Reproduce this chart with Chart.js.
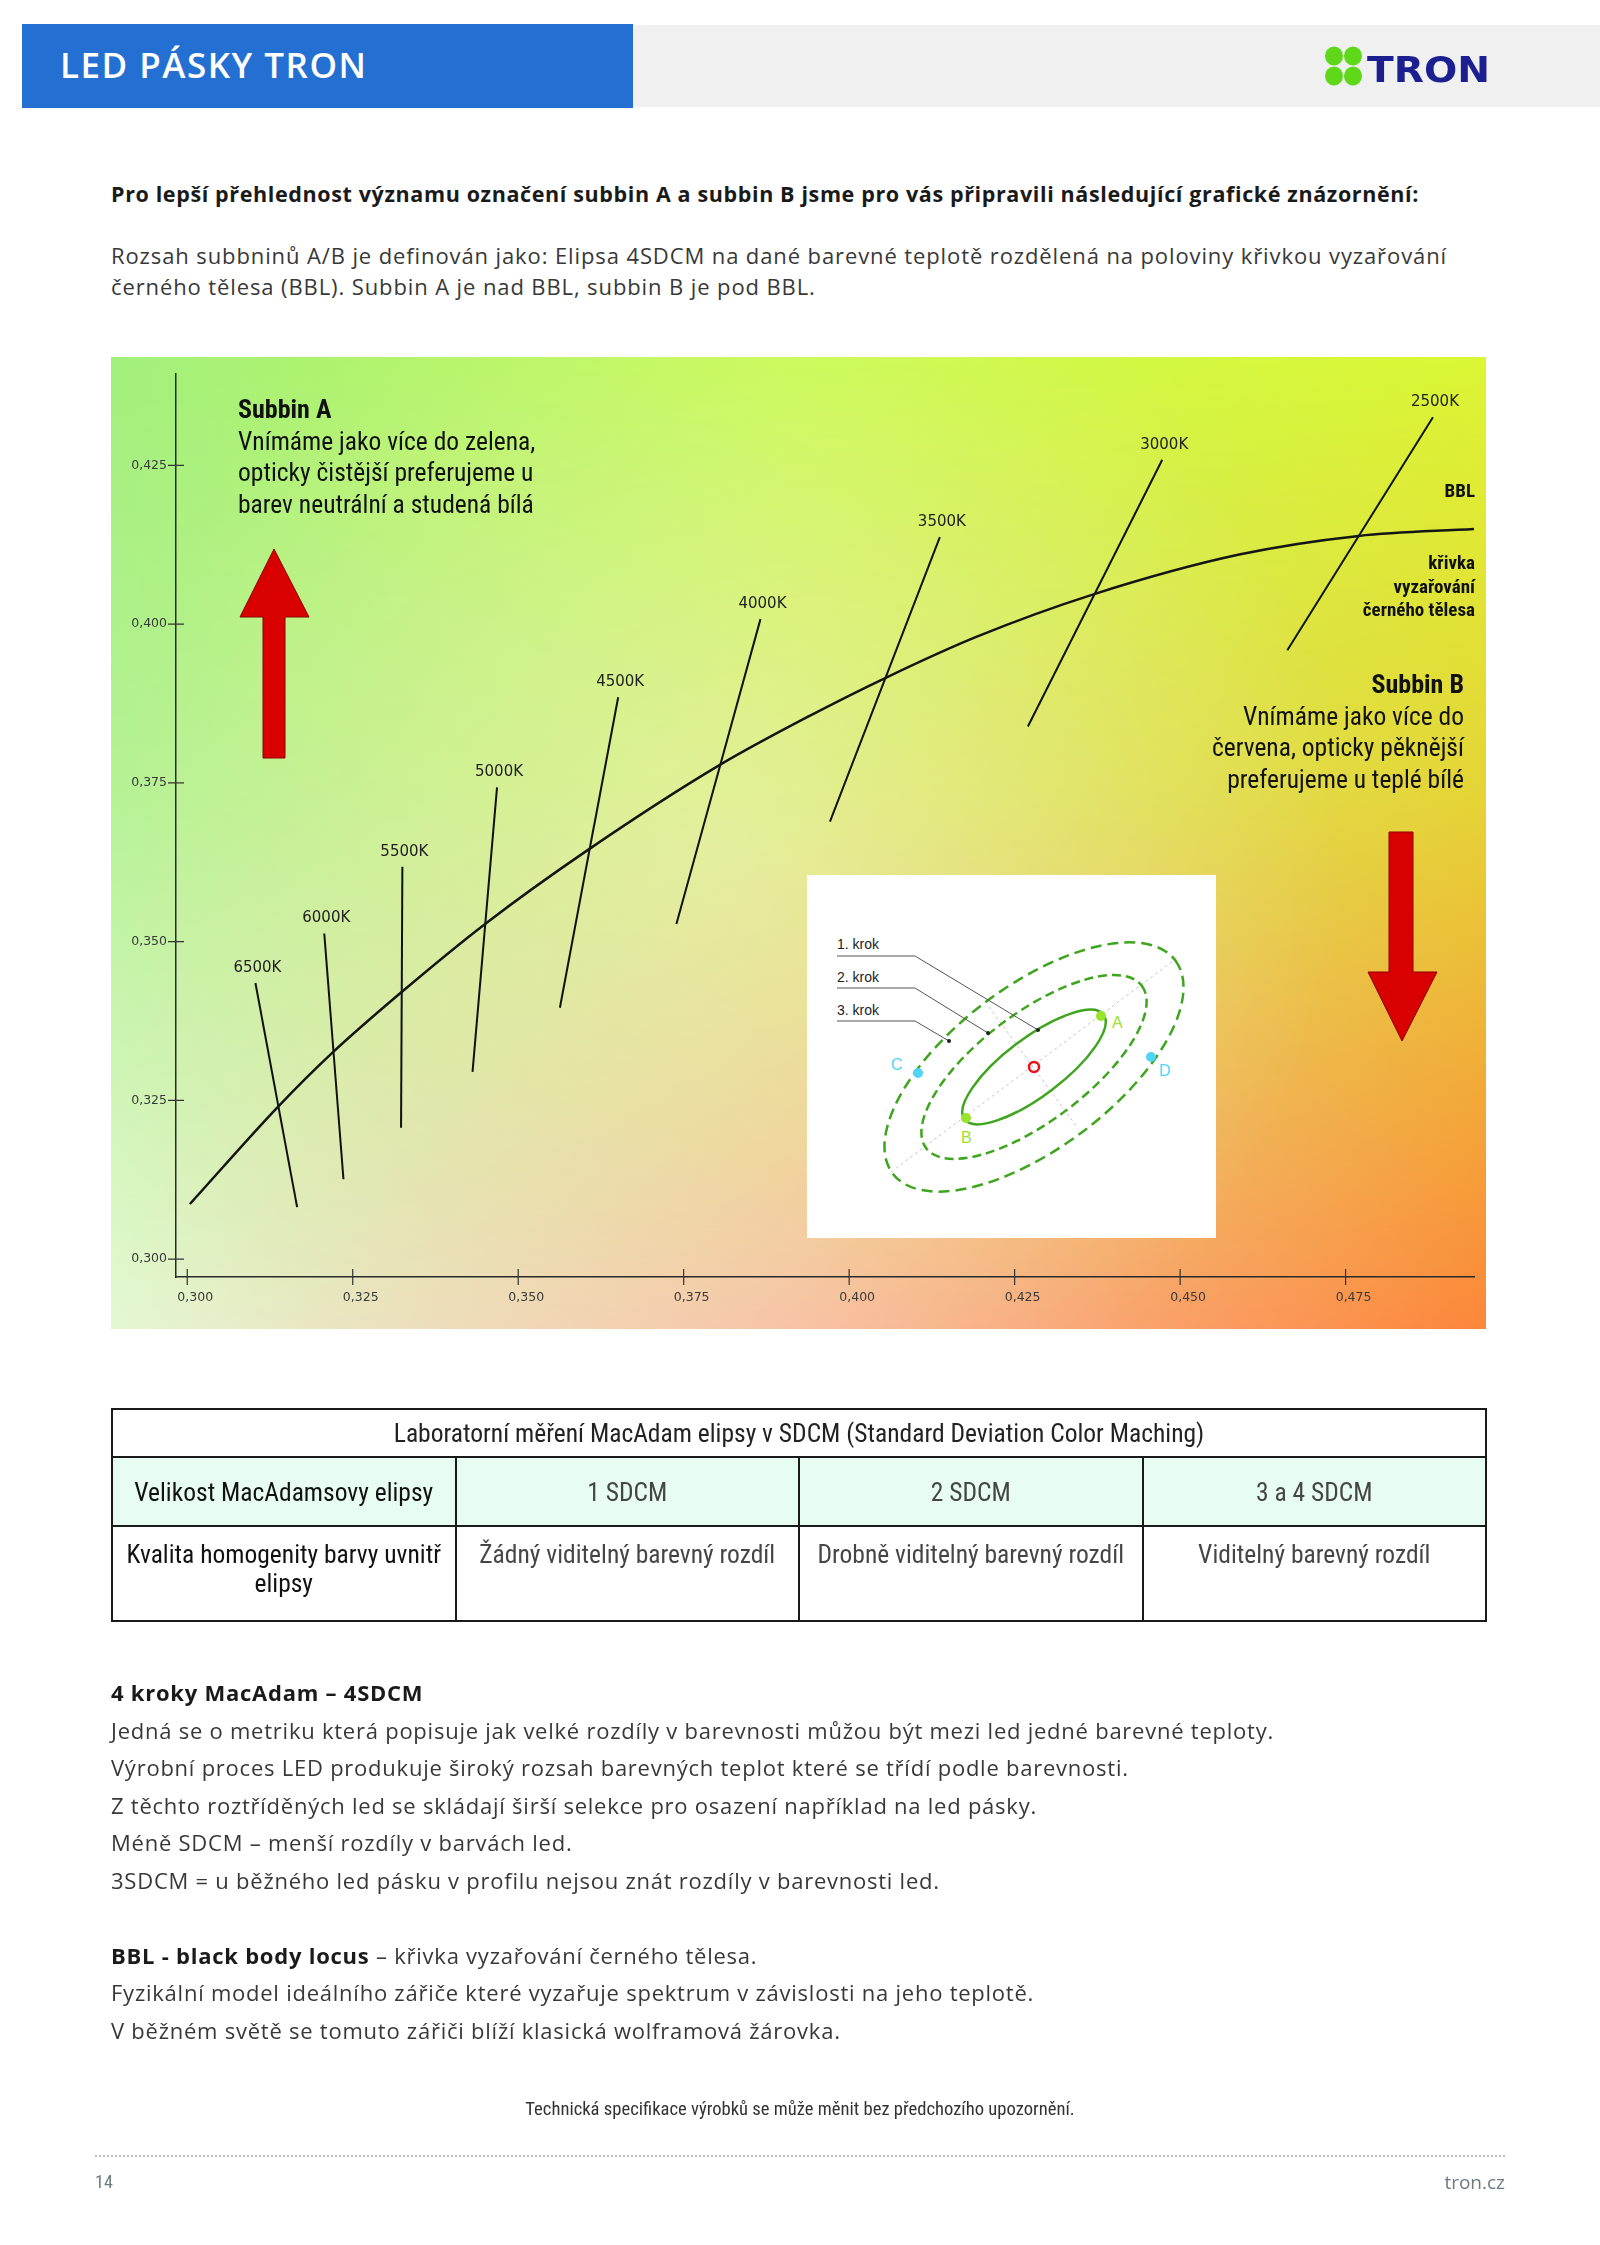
<!DOCTYPE html>
<html lang="cs">
<head>
<meta charset="utf-8">
<title>LED pásky TRON – subbin A / B</title>
<script src="https://cdn.jsdelivr.net/npm/chart.js@4.4.1/dist/chart.umd.min.js"></script>
<style>
  html, body { margin: 0; padding: 0; background: #fff; }
  body { width: 1600px; height: 2245px; position: relative; overflow: hidden; font-family: "Open Sans", Lato, sans-serif; color: #333; }
  .abs { position: absolute; }
  .cond { font-family: "Liberation Sans Narrow", "Roboto Condensed", "DejaVu Sans Condensed", sans-serif; }
  #hdr-blue { left: 22px; top: 24px; width: 611px; height: 84px; background: #246fd2; }
  #hdr-grey { left: 633px; top: 25px; width: 967px; height: 82px; background: #eff0ef; }
  #hdr-title { left: 60px; top: 43px; font-family: "Open Sans", sans-serif; font-weight: 600; font-size: 35px; letter-spacing: 1.5px; color: #fff; line-height: 44px; }
  #lead { left: 111px; top: 179px; font-size: 21.5px; font-weight: 700; color: #1a1a1a; white-space: nowrap; }
  #intro { left: 111px; top: 240px; font-size: 22px; line-height: 31px; color: #383838; white-space: nowrap; }
  #chartBox { left: 111px; top: 357px; width: 1375px; height: 972px; }
  .note { font-size: 25.5px; line-height: 31.5px; color: #111; white-space: nowrap; }
  .note b { font-size: 26px; }
  #subA { left: 238px; top: 394px; }
  #subB { right: 136px; top: 669px; text-align: right; }
  #bbl { right: 125px; top: 479px; text-align: right; font-weight: 700; font-size: 19px; line-height: 23.5px; color: #111; }
  #bblTxt { right: 125px; top: 551px; text-align: right; font-weight: 700; font-size: 19px; line-height: 23.5px; color: #111; }
  #inset { left: 807px; top: 875px; width: 409px; height: 363px; background: #fff; }
  #overlay { left: 0; top: 0; width: 1600px; height: 2245px; pointer-events: none; }
  table#mac { position: absolute; left: 111px; top: 1408px; width: 1376px; border-collapse: collapse; table-layout: fixed; }
  #mac td { border: 2px solid #1a1a1a; text-align: center; font-size: 25.5px; color: #454545; padding: 0 6px; }
  #mac tr.h td { height: 46px; color: #222; }
  #mac tr.s td { height: 67px; background: #e7fdf1; }
  #mac tr.q td { height: 80px; vertical-align: top; padding-top: 13px; line-height: 29px; }
  #mac td.k { color: #111; }
  #steps { left: 111px; top: 1674px; font-size: 22px; line-height: 37.5px; color: #383838; white-space: nowrap; }
  #steps b { color: #1a1a1a; }
  #disc { left: 0; width: 1600px; top: 2098px; text-align: center; font-size: 18.6px; color: #333; }
  #dots { left: 95px; top: 2155px; width: 1410px; border-top: 2px dotted #bdbdbd; }
  #pg { left: 95px; top: 2171px; font-size: 18px; color: #6b7b82; }
  #web { right: 95px; top: 2169px; font-family: "Open Sans", sans-serif; font-size: 19px; color: #6b7b82; }
</style>
</head>
<body>
<div class="abs" id="hdr-blue"></div>
<div class="abs" id="hdr-grey"></div>
<div class="abs" id="hdr-title">LED PÁSKY TRON</div>

<div class="abs" id="lead"><span id="leadRef">Pro lepší přehlednost významu označení subbin A a subbin B jsme pro vás připravili následující grafické znázornění:</span></div>
<div class="abs" id="intro"><span id="introRef">Rozsah subbninů A/B je definován jako: Elipsa 4SDCM na dané barevné teplotě rozdělená na poloviny křivkou vyzařování</span><br>černého tělesa (BBL). Subbin A je nad BBL, subbin B je pod BBL.</div>

<div class="abs" id="chartBox"><canvas id="cie"></canvas></div>

<div class="abs note cond" id="subA"><b>Subbin A</b><br>Vnímáme jako více do zelena,<br>opticky čistější preferujeme u<br>barev neutrální a studená bílá</div>
<div class="abs note cond" id="subB"><b>Subbin B</b><br>Vnímáme jako více do<br>červena, opticky pěknější<br>preferujeme u teplé bílé</div>
<div class="abs cond" id="bbl">BBL</div>
<div class="abs cond" id="bblTxt">křivka<br>vyzařování<br>černého tělesa</div>

<svg class="abs" id="inset" viewBox="0 0 409 363" xmlns="http://www.w3.org/2000/svg">
  <g stroke="#c8c8c8" stroke-width="1" stroke-dasharray="3 3" fill="none">
    <line x1="84" y1="297" x2="370" y2="83"/>
    <line x1="182" y1="132" x2="270" y2="252"/>
  </g>
  <g transform="rotate(-37 227 192)" fill="none" stroke="#3ea51e" stroke-width="2.5">
    <ellipse cx="227" cy="192" rx="87" ry="29"/>
    <ellipse cx="227" cy="192" rx="135" ry="54" stroke-dasharray="9 5"/>
    <ellipse cx="227" cy="192" rx="177" ry="81" stroke-dasharray="11 6"/>
  </g>
  <g stroke="#555" stroke-width="1" fill="none">
    <polyline points="30,81 108,81 231,155"/>
    <polyline points="30,113 108,113 181,158"/>
    <polyline points="30,146 108,146 142,166"/>
  </g>
  <g fill="#222">
    <circle cx="231" cy="155" r="2"/><circle cx="181" cy="158" r="2"/><circle cx="142" cy="166" r="2"/>
  </g>
  <g font-family="Liberation Sans, Arial, sans-serif" font-size="14" fill="#222">
    <text x="30" y="74">1. krok</text>
    <text x="30" y="107">2. krok</text>
    <text x="30" y="140">3. krok</text>
  </g>
  <circle cx="227" cy="192" r="5" fill="none" stroke="#e8141e" stroke-width="2.5"/>
  <g fill="#9be32a" font-family="Liberation Sans, Arial, sans-serif" font-size="16">
    <circle cx="294" cy="141" r="5"/><text x="305" y="153">A</text>
    <circle cx="159" cy="243" r="5"/><text x="154" y="268">B</text>
  </g>
  <g fill="#4fd4f5" font-family="Liberation Sans, Arial, sans-serif" font-size="16">
    <circle cx="111" cy="198" r="5"/><text x="84" y="195">C</text>
    <circle cx="344" cy="182" r="5"/><text x="352" y="201">D</text>
  </g>
</svg>

<svg class="abs" id="overlay" viewBox="0 0 1600 2245" xmlns="http://www.w3.org/2000/svg">
  <polygon points="274,549 309,617 285,617 285,758 263,758 263,617 240,617" fill="#d80000" stroke="#8a0000" stroke-width="1"/>
  <polygon points="1389,832 1413,832 1413,972 1437,972 1402,1041 1368,972 1389,972" fill="#d80000" stroke="#8a0000" stroke-width="1"/>
  <g fill="#5fd81a">
    <ellipse cx="1334" cy="56" rx="9" ry="9.5"/><ellipse cx="1353" cy="56" rx="9" ry="9.5"/>
    <ellipse cx="1334" cy="76" rx="9" ry="9.5"/><ellipse cx="1353" cy="76" rx="9" ry="9.5"/>
  </g>
  <text x="1367" y="82" font-family="DejaVu Sans, sans-serif" font-weight="bold" font-size="35" fill="#1c1f8f" textLength="123" lengthAdjust="spacingAndGlyphs">TRON</text>
</svg>

<table id="mac" class="cond">
  <tr class="h"><td colspan="4">Laboratorní měření MacAdam elipsy v SDCM (Standard Deviation Color Maching)</td></tr>
  <tr class="s"><td class="k">Velikost MacAdamsovy elipsy</td><td>1 SDCM</td><td>2 SDCM</td><td>3 a 4 SDCM</td></tr>
  <tr class="q"><td class="k">Kvalita homogenity barvy uvnitř<br>elipsy</td><td>Žádný viditelný barevný rozdíl</td><td>Drobně viditelný barevný rozdíl</td><td>Viditelný barevný rozdíl</td></tr>
</table>

<div class="abs" id="steps"><b>4 kroky MacAdam – 4SDCM</b><br><span id="stepsRef">Jedná se o metriku která popisuje jak velké rozdíly v barevnosti můžou být mezi led jedné barevné teploty.</span><br>Výrobní proces LED produkuje široký rozsah barevných teplot které se třídí podle barevnosti.<br>Z těchto roztříděných led se skládají širší selekce pro osazení například na led pásky.<br>Méně SDCM – menší rozdíly v barvách led.<br>3SDCM = u běžného led pásku v profilu nejsou znát rozdíly v barevnosti led.<br><br><b>BBL - black body locus</b> – křivka vyzařování černého tělesa.<br>Fyzikální model ideálního zářiče které vyzařuje spektrum v závislosti na jeho teplotě.<br>V běžném světě se tomuto zářiči blíží klasická wolframová žárovka.</div>

<div class="abs cond" id="disc">Technická specifikace výrobků se může měnit bez předchozího upozornění.</div>
<div class="abs" id="dots"></div>
<div class="abs cond" id="pg">14</div>
<div class="abs" id="web">tron.cz</div>

<script>
// CIE 1931 x/y values

// axis ranges and ticks
const xMin = 0.2983, xMax = 0.4944;
const yMin = 0.2972, yMax = 0.4394;
const xTickValues = [0.300, 0.325, 0.350, 0.375, 0.400, 0.425, 0.450, 0.475];
const xTickLabels = ['0,300', '0,325', '0,350', '0,375', '0,400', '0,425', '0,450', '0,475'];
const yTickValues = [0.300, 0.325, 0.350, 0.375, 0.400, 0.425];
const yTickLabels = ['0,300', '0,325', '0,350', '0,375', '0,400', '0,425'];

// black body locus (BBL)
const bblX = [0.3004, 0.3137, 0.3219, 0.3323, 0.3450, 0.3606, 0.3804, 0.3941, 0.4056, 0.4192, 0.4369, 0.4591, 0.4770, 0.4944];
const bblY = [0.3087, 0.3240, 0.3325, 0.3420, 0.3528, 0.3645, 0.3778, 0.3856, 0.3916, 0.3980, 0.4047, 0.4110, 0.4139, 0.4150];

// isotherm lines (correlated colour temperature)
const cctLabels  = ['6500K', '6000K', '5500K', '5000K', '4500K', '4000K', '3500K', '3000K', '2500K'];
const cctTopX    = [0.3103, 0.3207, 0.3325, 0.3468, 0.3651, 0.3866, 0.4137, 0.4473, 0.4882];
const cctTopY    = [0.3435, 0.3513, 0.3618, 0.3743, 0.3885, 0.4008, 0.4137, 0.4259, 0.4326];
const cctBottomX = [0.3166, 0.3236, 0.3323, 0.3431, 0.3563, 0.3739, 0.3971, 0.4270, 0.4662];
const cctBottomY = [0.3082, 0.3126, 0.3207, 0.3295, 0.3396, 0.3528, 0.3689, 0.3839, 0.3959];

// stretch a text block so that its reference line gets the width seen in the original
function fitBlock(blockId, refId, target) {
    const block = document.getElementById(blockId), ref = document.getElementById(refId);
    block.style.letterSpacing = '0px';
    const w = ref.getBoundingClientRect().width;
    const n = ref.textContent.length;
    block.style.letterSpacing = ((target - w) / n).toFixed(3) + 'px';
}

document.addEventListener('DOMContentLoaded', function () {
    const fit = () => {
        fitBlock('lead', 'leadRef', 1308);
        fitBlock('intro', 'introRef', 1336);
        fitBlock('steps', 'stepsRef', 1163);
    };
    fit();
    if (document.fonts && document.fonts.ready) document.fonts.ready.then(fit);

    const datasets = [{
        label: 'BBL',
        data: bblX.map((x, i) => ({ x: x, y: bblY[i] })),
        showLine: true,
        cubicInterpolationMode: 'monotone',
        borderColor: '#151515',
        borderWidth: 2.5,
        pointRadius: 0,
        clip: false
    }];
    cctLabels.forEach((name, i) => {
        datasets.push({
            label: name,
            data: [{ x: cctBottomX[i], y: cctBottomY[i] }, { x: cctTopX[i], y: cctTopY[i] }],
            showLine: true,
            borderColor: '#111',
            borderWidth: 2,
            pointRadius: 0,
            clip: false
        });
    });

    // gradient background of the diagram
    const backdrop = {
        id: 'backdrop',
        beforeDraw(chart) {
            const ctx = chart.ctx, w = chart.width, h = chart.height;
            ctx.save();
            let top = ctx.createLinearGradient(0, 0, w, 0);
            top.addColorStop(0, '#a2f07c');
            top.addColorStop(0.5, '#c9fa52');
            top.addColorStop(1, '#dcf634');
            ctx.fillStyle = top;
            ctx.fillRect(0, 0, w, h);

            const off = document.createElement('canvas');
            off.width = w; off.height = h;
            const o = off.getContext('2d');
            let bot = o.createLinearGradient(0, 0, w, 0);
            bot.addColorStop(0, '#e4f8d2');
            bot.addColorStop(0.5, '#f7bea0');
            bot.addColorStop(1, '#fc863a');
            o.fillStyle = bot;
            o.fillRect(0, 0, w, h);
            o.globalCompositeOperation = 'destination-in';
            let mask = o.createLinearGradient(0, 0, 0, h);
            mask.addColorStop(0, 'rgba(0,0,0,0)');
            mask.addColorStop(0.45, 'rgba(0,0,0,0.3)');
            mask.addColorStop(1, 'rgba(0,0,0,1)');
            o.fillStyle = mask;
            o.fillRect(0, 0, w, h);
            ctx.drawImage(off, 0, 0, w, h);

            let glow = ctx.createRadialGradient(w * 0.45, h * 0.5, 0, w * 0.45, h * 0.5, w * 0.45);
            glow.addColorStop(0, 'rgba(255,255,235,0.35)');
            glow.addColorStop(1, 'rgba(255,255,235,0)');
            ctx.fillStyle = glow;
            ctx.fillRect(0, 0, w, h);
            ctx.restore();
        }
    };

    // tick marks crossing the axes, and temperature labels
    const marks = {
        id: 'marks',
        afterDraw(chart) {
            const ctx = chart.ctx, a = chart.chartArea;
            const xs = chart.scales.x, ys = chart.scales.y;
            ctx.save();
            ctx.strokeStyle = '#333';
            ctx.lineWidth = 1.2;
            ctx.beginPath();
            yTickValues.forEach(v => {
                const p = ys.getPixelForValue(v);
                ctx.moveTo(a.left - 8, p); ctx.lineTo(a.left + 8, p);
            });
            xTickValues.forEach(v => {
                const p = xs.getPixelForValue(v);
                ctx.moveTo(p, a.bottom - 8); ctx.lineTo(p, a.bottom + 8);
            });
            ctx.stroke();

            ctx.fillStyle = '#222';
            ctx.font = '15px "DejaVu Sans", sans-serif';
            ctx.textAlign = 'center';
            ctx.textBaseline = 'middle';
            cctLabels.forEach((name, i) => {
                ctx.fillText(name, xs.getPixelForValue(cctTopX[i]) + 2, ys.getPixelForValue(cctTopY[i]) - 15);
            });
            ctx.restore();
        }
    };

    const tickFont = { family: '"DejaVu Sans", sans-serif', size: 12.5 };

    new Chart(document.getElementById('cie'), {
        type: 'scatter',
        data: { datasets: datasets },
        options: {
            responsive: true,
            maintainAspectRatio: false,
            animation: false,
            events: [],
            layout: { padding: { top: 17, right: 12, left: 0, bottom: 0 } },
            plugins: {
                legend: { display: false },
                tooltip: { enabled: false }
            },
            scales: {
                x: {
                    type: 'linear',
                    min: xMin,
                    max: xMax,
                    afterBuildTicks: axis => { axis.ticks = xTickValues.map(v => ({ value: v })); },
                    afterFit: axis => { axis.height = 52; },
                    grid: { display: false, drawTicks: false },
                    border: { color: '#2a2a2a', width: 1.5 },
                    ticks: {
                        padding: 13,
                        labelOffset: 8,
                        maxRotation: 0,
                        color: '#3a3a3a',
                        font: tickFont,
                        callback: (v, i) => xTickLabels[i]
                    }
                },
                y: {
                    type: 'linear',
                    min: yMin,
                    max: yMax,
                    afterBuildTicks: axis => { axis.ticks = yTickValues.map(v => ({ value: v })); },
                    afterFit: axis => { axis.width = 65; },
                    grid: { display: false, drawTicks: false },
                    border: { color: '#2a2a2a', width: 1.5 },
                    ticks: {
                        padding: 9,
                        color: '#3a3a3a',
                        font: tickFont,
                        callback: (v, i) => yTickLabels[i]
                    }
                }
            }
        },
        plugins: [backdrop, marks]
    });
});
</script>
</body>
</html>
